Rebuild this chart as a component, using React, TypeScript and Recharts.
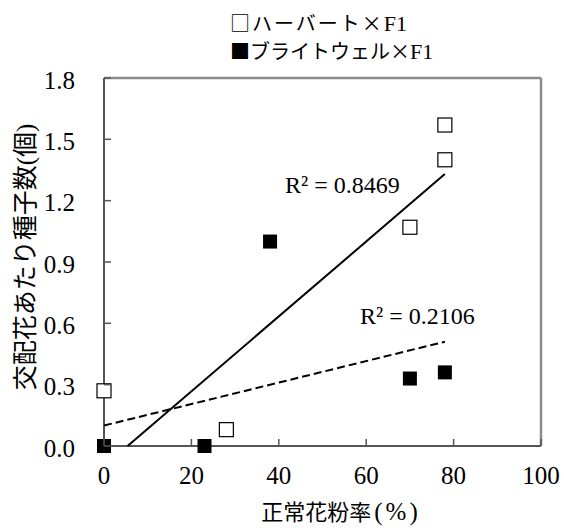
import { ScatterChart, Scatter, XAxis, YAxis, ReferenceLine } from "recharts"

// 正常花粉率(%) vs 交配花あたり種子数(個)
const harvardX = [0, 28, 70, 78, 78]
const harvardY = [0.27, 0.08, 1.07, 1.4, 1.57]
const brightX = [0, 23, 38, 70, 78]
const brightY = [0, 0, 1.0, 0.33, 0.36]

// trend lines (start/end of each)
const harvardFitX = [5.4, 78]
const harvardFitY = [0, 1.33]
const brightFitX = [0, 78]
const brightFitY = [0.1, 0.51]

const xTicks = [0, 20, 40, 60, 80, 100]
const yTicks = [0, 0.3, 0.6, 0.9, 1.2, 1.5, 1.8]

const legendNames = ["□ハーバート×", "■ブライトウェル×"]
const legendSuffix = "F1"
const r2Labels = ["R² = 0.8469", "R² = 0.2106"]
const xTitle = ["正常花粉率", "(%)"]
const yTitle = "交配花あたり種子数(個)"

const toPoints = (xs: number[], ys: number[]) => xs.map((x, i) => ({ x, y: ys[i] }))

const harvard = toPoints(harvardX, harvardY)
const bright = toPoints(brightX, brightY)
const harvardFit = toPoints(harvardFitX, harvardFitY)
const brightFit = toPoints(brightFitX, brightFitY)

const SERIF = "Liberation Serif"
const FONT = "'Liberation Serif', 'Noto Sans CJK JP', serif"
const JP = "'Noto Sans CJK JP', 'Liberation Serif', serif"
const AXIS = "#555"

function OpenSquare(props: any) {
  const { cx, cy } = props
  return <rect x={cx - 7} y={cy - 7} width={14} height={14} fill="#fff" stroke="#000" strokeWidth={1.2} />
}

function FilledSquare(props: any) {
  const { cx, cy } = props
  return <rect x={cx - 7} y={cy - 7} width={14} height={14} fill="#000" />
}

function NoDot() {
  return <g />
}

function YTick(props: any) {
  const { x, y, payload } = props
  return (
    <g>
      <line x1={x} x2={x + 7} y1={y} y2={y} stroke={AXIS} strokeWidth={1.5} />
      <text
        x={x - 29}
        y={y + 2}
        textAnchor="end"
        dominantBaseline="central"
        fontFamily={SERIF}
        fontSize={25}
        fill="#000"
        style={{ fontFamily: SERIF }}
      >
        {payload.value.toFixed(1)}
      </text>
    </g>
  )
}

function XTick(props: any) {
  const { x, y, payload } = props
  return (
    <g>
      <line x1={x} x2={x} y1={y} y2={y - 7} stroke={AXIS} strokeWidth={1.5} />
      <text
        x={x}
        y={y + 29}
        textAnchor="middle"
        dominantBaseline="central"
        fontFamily={SERIF}
        fontSize={25}
        fill="#000"
        style={{ fontFamily: SERIF }}
      >
        {payload.value}
      </text>
    </g>
  )
}

export default function App() {
  const textStyle: React.CSSProperties = {
    position: "absolute",
    fontFamily: FONT,
    color: "#000",
    whiteSpace: "nowrap",
    lineHeight: 1,
  }
  return (
    <div style={{ position: "absolute", left: 0, top: 0, width: 564, height: 528, background: "#fff", fontFamily: FONT }}>
      <ScatterChart
        width={564}
        height={528}
        margin={{ top: 78, right: 23, left: 0, bottom: 0 }}
        style={{ fontFamily: FONT }}
      >
        <XAxis
          type="number"
          dataKey="x"
          domain={[0, 100]}
          ticks={xTicks}
          height={82}
          tickSize={0}
          tickMargin={0}
          tick={<XTick />}
          axisLine={{ stroke: AXIS, strokeWidth: 2 }}
          tickLine={false}
        />
        <YAxis
          type="number"
          dataKey="y"
          domain={[0, 1.8]}
          ticks={yTicks}
          width={104}
          tickSize={0}
          tickMargin={0}
          tick={<YTick />}
          axisLine={{ stroke: AXIS, strokeWidth: 2 }}
          tickLine={false}
        />
        <ReferenceLine y={1.8} stroke="#8c8c8c" strokeWidth={2.5} />
        <ReferenceLine x={100} stroke="#8c8c8c" strokeWidth={2.5} />
        <Scatter data={harvardFit} line={{ stroke: "#000", strokeWidth: 2 }} shape={<NoDot />} isAnimationActive={false} />
        <Scatter
          data={brightFit}
          line={{ stroke: "#000", strokeWidth: 2, strokeDasharray: "8 4" }}
          shape={<NoDot />}
          isAnimationActive={false}
        />
        <Scatter data={harvard} shape={<OpenSquare />} isAnimationActive={false} />
        <Scatter data={bright} shape={<FilledSquare />} isAnimationActive={false} />
      </ScatterChart>

      {legendNames.map((l, i) => (
        <div key={l} style={{ ...textStyle, left: 230, top: 9 + i * 28, height: 28, lineHeight: "28px", fontSize: 20 }}>
          <span style={{ fontFamily: JP, letterSpacing: i === 0 ? 2 : 0 }}>{l}</span>
          <span style={{ fontFamily: SERIF, fontSize: 22 }}>{legendSuffix}</span>
        </div>
      ))}

      <div style={{ ...textStyle, left: 285, top: 173, fontSize: 24 }}>{r2Labels[0]}</div>
      <div style={{ ...textStyle, left: 360, top: 304, fontSize: 24 }}>{r2Labels[1]}</div>

      <div style={{ ...textStyle, left: 341, top: 511, fontSize: 22, transform: "translate(-50%, -50%)" }}>
        <span style={{ fontFamily: JP }}>{xTitle[0]}</span>
        <span style={{ fontFamily: SERIF, fontSize: 25, letterSpacing: 3, marginLeft: 3 }}>{xTitle[1]}</span>
      </div>
      <div style={{ ...textStyle, left: 25, top: 257, fontSize: 25, transform: "translate(-50%, -50%) rotate(-90deg)" }}>
        {yTitle}
      </div>
    </div>
  )
}
